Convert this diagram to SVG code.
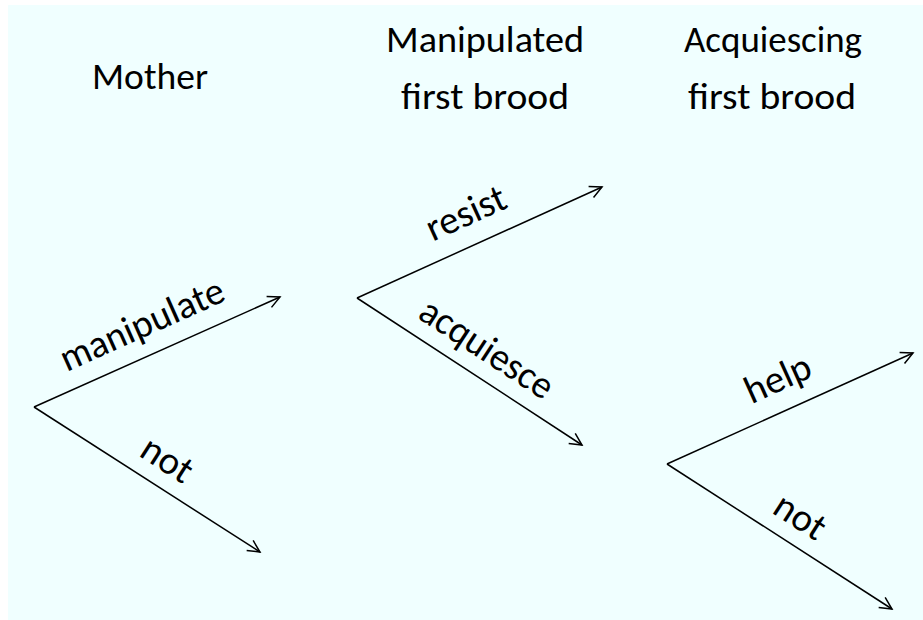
<svg xmlns="http://www.w3.org/2000/svg" width="923" height="620" viewBox="0 0 923 620">
  <style>
    .t { font-family: Carlito, "Open Sans", "Liberation Sans", sans-serif; font-size: 37.5px; fill: #000; text-anchor: middle; }
    .l { font-size: 39px; }
    .c { stroke: #000; stroke-width: 1.5; fill: none; marker-end: url(#arr); }
  </style>
  <defs>
    <marker id="arr" markerUnits="userSpaceOnUse" markerWidth="16" markerHeight="16" viewBox="0 0 16 16" refX="14" refY="8" orient="auto">
      <path d="M2,2 L14,8 L2,14" fill="none" stroke="#000" stroke-width="1.5"/>
    </marker>
  </defs>
  <rect x="8" y="5" width="915" height="615" fill="#f0ffff"/>

  <g id="mother">
    <text class="t" x="150" y="89" textLength="116" lengthAdjust="spacingAndGlyphs">Mother</text>
  </g>
  <g id="manipulated-first-brood">
    <text class="t" x="485" y="52" textLength="198" lengthAdjust="spacingAndGlyphs">Manipulated</text>
    <text class="t" x="485" y="109" textLength="168" lengthAdjust="spacingAndGlyphs">first brood</text>
  </g>
  <g id="acquiescing-first-brood">
    <text class="t" x="773" y="52" textLength="178" lengthAdjust="spacingAndGlyphs">Acquiescing</text>
    <text class="t" x="772" y="109" textLength="168" lengthAdjust="spacingAndGlyphs">first brood</text>
  </g>

  <g id="connectors">
    <line class="c" x1="34" y1="407" x2="280" y2="297"/>
    <line class="c" x1="34" y1="407" x2="260" y2="552"/>
    <line class="c" x1="357" y1="298" x2="602" y2="187"/>
    <line class="c" x1="357" y1="298" x2="582" y2="445"/>
    <line class="c" x1="667" y1="464" x2="913" y2="353"/>
    <line class="c" x1="667" y1="464" x2="892" y2="609"/>
  </g>

  <g id="labels">
    <text class="t l" transform="translate(147,336) rotate(-24.1)" textLength="176" lengthAdjust="spacingAndGlyphs">manipulate</text>
    <text class="t l" transform="translate(160.4,470) rotate(32.8)" textLength="54" lengthAdjust="spacingAndGlyphs">not</text>
    <text class="t l" transform="translate(471,224.5) rotate(-24.4)" textLength="84" lengthAdjust="spacingAndGlyphs">resist</text>
    <text class="t l" transform="translate(480,359) rotate(33.2)" textLength="152" lengthAdjust="spacingAndGlyphs">acquiesce</text>
    <text class="t l" transform="translate(783,390) rotate(-24.3)" textLength="69" lengthAdjust="spacingAndGlyphs">help</text>
    <text class="t l" transform="translate(793.4,527) rotate(32.8)" textLength="54" lengthAdjust="spacingAndGlyphs">not</text>
  </g>
</svg>
